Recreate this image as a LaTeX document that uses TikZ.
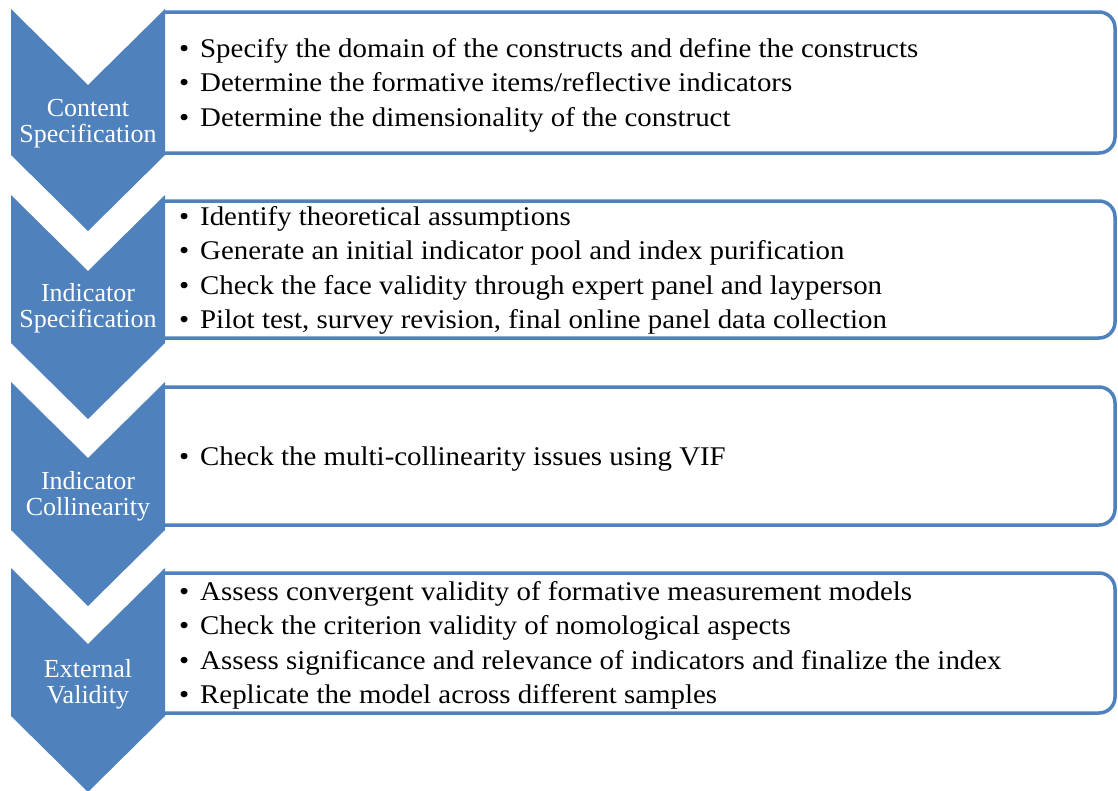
\documentclass[tikz,border=0pt]{standalone}
\usepackage{fontspec}
\setmainfont{Liberation Serif}
\newfontfamily\bodyfont[FakeStretch=1.07]{Liberation Serif}
\definecolor{stepblue}{RGB}{79,129,189}
\newcommand{\itm}[1]{\hbox{\makebox[21pt][l]{\textbullet}#1}}
\newcommand{\itemlist}[1]{\vtop{\baselineskip=34.5pt #1}}
\begin{document}
\begin{tikzpicture}[x=1pt,y=-1pt,
  chevron/.style={fill=stepblue,draw=none},
  panel/.style={draw=stepblue,line width=3.5pt,fill=white},
  steplabel/.style={text=white,font=\fontsize{26}{26}\selectfont,align=center,inner sep=0},
  bullets/.style={anchor=base west,inner sep=0,font=\bodyfont\fontsize{27}{34.5}\selectfont}]
\useasboundingbox (0,0) rectangle (1118,790);

% rounded-right panels behind the chevrons
\foreach \t/\b in {12/153, 201/338, 387/525, 573/713}{
  \draw[panel] (165,\t) [rounded corners=16pt]-- (1115,\t) -- (1115,\b) [sharp corners]-- (160,\b);
}

% downward chevrons
\foreach \T/\B [count=\i] in {9/155, 195/343, 382/530, 568/716}{
  \fill[chevron] (11,\T) -- (88,\T+76) -- (165,\T) -- (165,\B) -- (88,\B+76) -- (11,\B) -- cycle;
}

% step names (anchored on the baseline of the second line)
\node[steplabel,anchor=base] (l1) at (88,142) {Content\\Specification};
\node[steplabel,anchor=base] (l2) at (88,327) {Indicator\\Specification};
\node[steplabel,anchor=base] (l3) at (88,515) {Indicator\\Collinearity};
\node[steplabel,anchor=base] (l4) at (88,703) {External\\Validity};

% step contents
\node[bullets] (c1) at (179,57) {\itemlist{%
  \itm{Specify the domain of the constructs and define the constructs}
  \itm{Determine the formative items/reflective indicators}
  \itm{Determine the dimensionality of the construct}}};
\node[bullets] (c2) at (179,225) {\itemlist{%
  \itm{Identify theoretical assumptions}
  \itm{Generate an initial indicator pool and index purification}
  \itm{Check the face validity through expert panel and layperson}
  \itm{Pilot test, survey revision, final online panel data collection}}};
\node[bullets] (c3) at (179,465) {\itemlist{%
  \itm{Check the multi-collinearity issues using VIF}}};
\node[bullets] (c4) at (179,600) {\itemlist{%
  \itm{Assess convergent validity of formative measurement models}
  \itm{Check the criterion validity of nomological aspects}
  \itm{Assess significance and relevance of indicators and finalize the index}
  \itm{Replicate the model across different samples}}};
\end{tikzpicture}
\end{document}
